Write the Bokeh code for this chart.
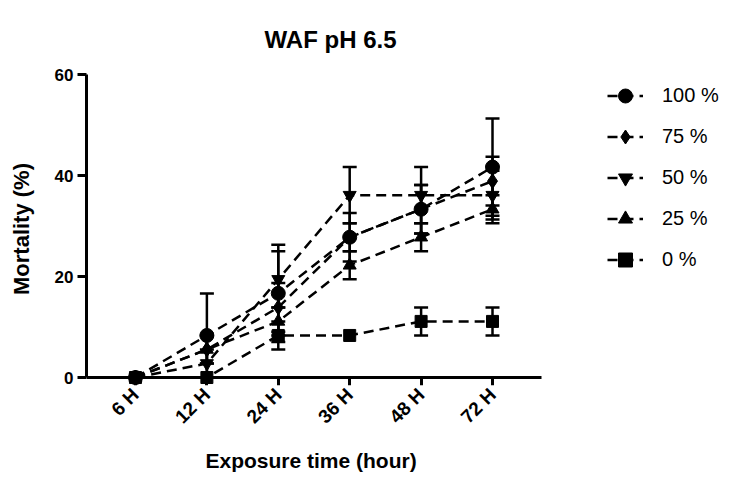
import math
from bokeh.plotting import figure
from bokeh.models import (ColumnDataSource, Whisker, TeeHead, Legend, LegendItem,
                          FixedTicker, Range1d, LinearAxis, Title)
from bokeh.embed import file_html
from bokeh.resources import INLINE

times = ["6 H", "12 H", "24 H", "36 H", "48 H", "72 H"]
series = ["100 %", "75 %", "50 %", "25 %", "0 %"]

m100 = [0, 8.33, 16.67, 27.78, 33.33, 41.67]
e100 = [0, 8.33, 9.62, 4.81, 4.81, 9.62]
m75 = [0, 5.56, 13.89, 27.78, 33.33, 38.89]
e75 = [0, 2.78, 4.81, 2.78, 4.81, 4.81]
m50 = [0, 2.78, 19.44, 36.11, 36.11, 36.11]
e50 = [0, 2.78, 5.56, 5.56, 5.56, 4.81]
m25 = [0, 5.56, 11.11, 22.22, 27.78, 33.33]
e25 = [0, 2.78, 2.78, 2.78, 2.78, 2.78]
m0 = [0, 0, 8.33, 8.33, 11.11, 11.11]
e0 = [0, 0, 2.78, 0, 2.78, 2.78]

means = [m100, m75, m50, m25, m0]
errs = [e100, e75, e50, e25, e0]
markers = ["circle", "diamond", "inverted_triangle", "triangle", "square"]
msizes = [14, 15, 13, 13, 12]

FONT = "Liberation Sans"

# frame spans the plot and the legend area; the x axis line is bounded
p = figure(width=733, height=481, output_backend="svg", toolbar_location=None,
           x_range=Range1d(-0.686, 8.263), y_range=Range1d(-1.58, 60.4),
           min_border_left=86, min_border_right=8, min_border_top=72,
           min_border_bottom=96, x_axis_location=None, y_axis_location=None)
p.title.text = "WAF pH 6.5"
p.title.text_font = FONT
p.title.text_font_size = "24px"
p.title.text_font_style = "bold"
p.title.text_color = "black"
p.title.align = "left"
p.title.offset = 178
p.title.standoff = 39
p.outline_line_color = None
p.xgrid.visible = False
p.ygrid.visible = False

xs = list(range(len(times)))

for i in range(len(series)):
    ys = means[i]
    es = errs[i]
    wx = [x for x, e in zip(xs, es) if e > 0]
    wu = [y + e for y, e in zip(ys, es) if e > 0]
    wl = [y - e for y, e in zip(ys, es) if e > 0]
    if wx:
        wsrc = ColumnDataSource(dict(x=wx, upper=wu, lower=wl))
        w = Whisker(base="x", upper="upper", lower="lower", source=wsrc,
                    line_width=2.5, line_color="black",
                    upper_head=TeeHead(size=14, line_width=2.5, line_color="black"),
                    lower_head=TeeHead(size=14, line_width=2.5, line_color="black"))
        p.add_layout(w)

items = []
for i in range(len(series)):
    src = ColumnDataSource(dict(x=xs, y=means[i]))
    lr = p.line("x", "y", source=src, line_width=2.5, line_color="black",
                line_dash="10 6")
    sr = p.scatter("x", "y", source=src, marker=markers[i], size=msizes[i],
                   fill_color="black", line_color="black")
    items.append(LegendItem(label=series[i], renderers=[lr, sr]))

legend = Legend(items=items, location=(521, 108), padding=0, margin=0,
                spacing=6, glyph_width=36, glyph_height=35, label_height=20,
                label_standoff=19, label_text_font=FONT,
                label_text_font_size="20px", label_text_color="black",
                border_line_alpha=0, background_fill_alpha=0)
p.add_layout(legend)

# x axis line and ticks drawn at y = 0
xline = LinearAxis(ticker=FixedTicker(ticks=xs), fixed_location=0,
                   bounds=(-0.686, 5.686),
                   major_label_text_color=None,
                   axis_line_width=3, axis_line_color="black",
                   major_tick_line_width=3, major_tick_line_color="black",
                   major_tick_out=8, major_tick_in=0,
                   minor_tick_line_color=None)
p.add_layout(xline, "below")

# x tick labels below the frame
xlab = LinearAxis(ticker=FixedTicker(ticks=xs),
                  major_label_overrides={i: t for i, t in enumerate(times)},
                  major_label_orientation=math.pi / 4,
                  axis_line_color=None, major_tick_line_color=None,
                  major_tick_out=0, major_tick_in=0, minor_tick_line_color=None,
                  major_label_standoff=6,
                  major_label_text_font=FONT, major_label_text_font_style="bold",
                  major_label_text_font_size="19px",
                  major_label_text_color="black")
p.add_layout(xlab, "below")

xtitle = Title(text="Exposure time (hour)", align="left", offset=119,
               text_font=FONT, text_font_style="bold", text_font_size="21px",
               text_color="black", standoff=18, vertical_align="bottom")
p.add_layout(xtitle, "below")

ya = LinearAxis(ticker=FixedTicker(ticks=[0, 20, 40, 60]), bounds=(0, 60),
                axis_line_width=3, axis_line_color="black",
                major_tick_line_width=3, major_tick_line_color="black",
                major_tick_out=9, major_tick_in=0, minor_tick_line_color=None,
                major_label_standoff=4,
                major_label_text_font=FONT, major_label_text_font_style="bold",
                major_label_text_font_size="17px",
                major_label_text_color="black",
                axis_label="Mortality (%)",
                axis_label_text_font=FONT, axis_label_text_font_style="bold",
                axis_label_text_font_size="22px",
                axis_label_text_color="black", axis_label_standoff=18)
p.add_layout(ya, "left")

open("out.html", "w").write(file_html(p, INLINE))
